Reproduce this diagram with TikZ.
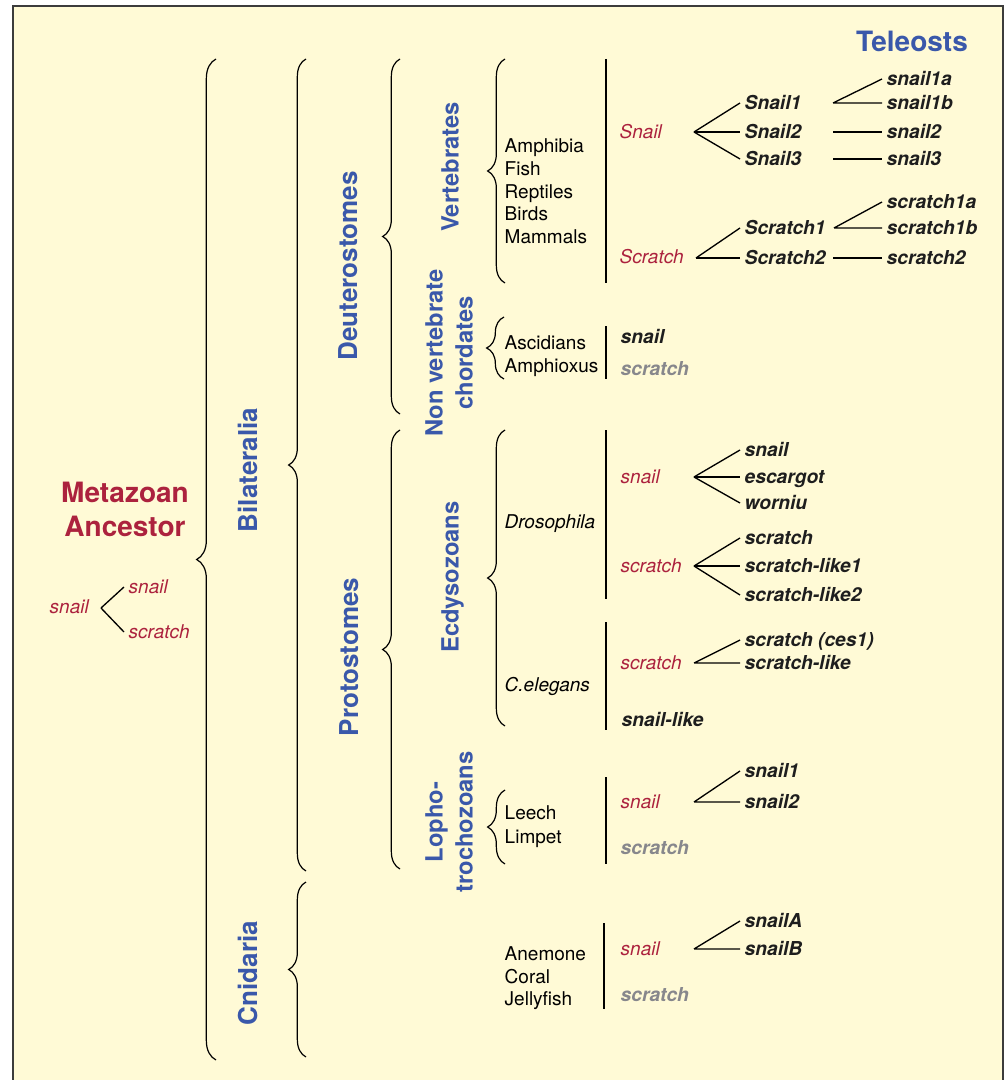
\documentclass[tikz,border=0pt]{standalone}
\usepackage{fontspec}
\setmainfont{TeX Gyre Heros}
\usetikzlibrary{positioning,decorations.pathreplacing}
\definecolor{bgyellow}{RGB}{255,250,214}
\definecolor{framegrey}{RGB}{60,60,60}
\definecolor{cladeblue}{RGB}{58,88,170}
\definecolor{genered}{RGB}{172,34,62}
\definecolor{lostgrey}{RGB}{135,135,140}
\definecolor{geneblack}{RGB}{30,30,30}

\begin{document}
\begin{tikzpicture}[x=0.75pt,y=-0.75pt]
\useasboundingbox (0,0) rectangle (1007,1080);
\clip (0,0) rectangle (1007,1080);
\draw[framegrey,fill=bgyellow,line width=1.5pt] (13,6) rectangle (1003,1100);

\tikzstyle{taxon}=[anchor=west,text=black,font=\fontsize{14.25}{17}\selectfont,text height=10.3pt,text depth=0pt]
\tikzstyle{anc}=[taxon,text=genered,font=\fontsize{14.25}{17}\selectfont\itshape]
\tikzstyle{gene}=[taxon,text=geneblack,font=\fontsize{14.4}{17}\selectfont\bfseries\itshape]
\tikzstyle{lost}=[gene,text=lostgrey]
\tikzstyle{clade}=[rotate=90,text=cladeblue,font=\fontsize{19.5}{22}\selectfont\bfseries,text height=14pt,text depth=0pt]
\tikzstyle{group}=[clade,font=\fontsize{17.8}{22.5}\selectfont\bfseries,text height=12.8pt]
\tikzstyle{subclade}=[rotate=90,align=center,text=cladeblue,font=\fontsize{17.8}{22.5}\selectfont\bfseries]
\tikzstyle{bracket}=[decorate,decoration={brace,amplitude=13pt},line width=0.9pt]
\tikzstyle{bar}=[line width=1.2pt]
\tikzstyle{fork}=[line width=1pt]

% title and ancestor
\node[text=cladeblue,font=\fontsize{21}{25}\selectfont\bfseries] (teleosts) at (912,41) {Teleosts};
\node[align=center,text=genered,font=\fontsize{21}{25.5}\selectfont\bfseries] (root) at (125,509) {Metazoan\\Ancestor};
\node[anc] (rsnail) at (45,607) {snail};
\node[anc] (rsnail2) at (124,587) {snail};
\node[anc] (rscratch) at (124,632) {scratch};
\coordinate (kr) at (101,608);
\draw[fork] (kr) -- (rsnail2.west) (kr) -- (rscratch.west);

% clades
\node[clade] (bil) at (248,470) {Bilateralia};
\node[clade] (cni) at (248,973) {Cnidaria};
\node[clade] (deu) at (348,266) {Deuterostomes};
\node[clade] (pro) at (349,657) {Protostomes};
\node[group] (ver) at (450,167) {Vertebrates};
\node[group] (ecd) at (450,577) {Ecdysozoans};
\node[subclade] (nvc) at (449,353) {Non vertebrate\\chordates};
\node[subclade] (lop) at (449,822) {Lopho-\\trochozoans};

% braces and bars
\draw[bracket,decoration={brace,amplitude=14.5pt}] (216,1060) -- (216,59);
\foreach \x/\a/\b in {306/871/59,306/1057/882,400/414/59,400/869/430,505/283/59,504/379/317,505/726/430,505/864/790}
  \draw[bracket] (\x,\a) -- (\x,\b);
\foreach \x/\a/\b in {606/59/283,606/326/379,606/430/599,606/622/730,606/777/864,604/923/1009}
  \draw[bar] (\x,\a) -- (\x,\b);

% species
\foreach \n/\y in {Amphibia/146,Fish/169,Reptiles/192,Birds/214,Mammals/237,Ascidians/343,Amphioxus/366,Leech/813,Limpet/837,Anemone/954,Coral/977,Jellyfish/999}
  \node[taxon] (\n) at (500,\y) {\n};
\node[taxon,font=\fontsize{14.25}{17}\selectfont\itshape] (droso) at (500,522) {Drosophila};
\node[taxon,font=\fontsize{14.25}{17}\selectfont\itshape] (celeg) at (500,685) {C.elegans};

% teleosts
\node[anc] (tSnail) at (615,132) {Snail};
\node[anc] (tScratch) at (615,257) {Scratch};
\foreach \n/\y in {Snail1/103,Snail2/132,Snail3/159,Scratch1/228,Scratch2/258}
  \node[gene] (\n) at (740,\y) {\n};
\foreach \n/\y in {snail1a/79,snail1b/103,snail2/132,snail3/159,scratch1a/202,scratch1b/228,scratch2/258}
  \node[gene] (t\n) at (882,\y) {\n};
\coordinate (kSn) at (694,132);
\coordinate (kSc) at (696,258);
\foreach \n in {Snail1,Snail2,Snail3} \draw[fork] (kSn) -- (\n.west);
\foreach \n in {Scratch1,Scratch2} \draw[fork] (kSc) -- (\n.west);
\coordinate (kS1) at (833,103);
\coordinate (kC1) at (834,228);
\draw[fork] (kS1) -- (tsnail1a.west) (kS1) -- (tsnail1b.west);
\draw[fork] (kC1) -- (tscratch1a.west) (kC1) -- (tscratch1b.west);
\foreach \k/\n/\y in {S2/snail2/132,S3/snail3/159,C2/scratch2/258}{
  \coordinate (k\k) at (833,\y);
  \draw[fork] (k\k) -- (t\n.west);
}

% other chordates
\node[gene] (nsnail) at (616,337) {snail};
\node[lost] (nscratch) at (616,369) {scratch};

% Drosophila
\node[anc] (dsnail) at (616,477) {snail};
\node[anc] (dscratch) at (616,566) {scratch};
\foreach \n/\t/\y in {dsn/snail/450,esc/escargot/477,wor/worniu/503,dsc/scratch/538,dsl1/scratch-like1/566,dsl2/scratch-like2/595}
  \node[gene] (\n) at (740,\y) {\t};
\coordinate (kd1) at (694,477);
\coordinate (kd2) at (694,566);
\foreach \n in {dsn,esc,wor} \draw[fork] (kd1) -- (\n.west);
\foreach \n in {dsc,dsl1,dsl2} \draw[fork] (kd2) -- (\n.west);

% C. elegans
\node[anc] (cscratch) at (616,663) {scratch};
\node[gene] (ces) at (740,640) {scratch (ces1)};
\node[gene] (csl) at (740,663) {scratch-like};
\coordinate (kc) at (694,663);
\draw[fork] (kc) -- (ces.west) (kc) -- (csl.west);
\node[gene] (csnail) at (617,720) {snail-like};

% lophotrochozoans
\node[anc] (lsnail) at (616,802) {snail};
\node[lost] (lscratch) at (616,848) {scratch};
\node[gene] (ls1) at (740,771) {snail1};
\node[gene] (ls2) at (740,802) {snail2};
\coordinate (kl) at (694,802);
\draw[fork] (kl) -- (ls1.west) (kl) -- (ls2.west);

% cnidaria
\node[anc] (csnail2) at (616,949) {snail};
\node[lost] (cscratch2) at (616,995) {scratch};
\node[gene] (snA) at (740,921) {snailA};
\node[gene] (snB) at (740,949) {snailB};
\coordinate (kn) at (694,949);
\draw[fork] (kn) -- (snA.west) (kn) -- (snB.west);
\end{tikzpicture}
\end{document}
